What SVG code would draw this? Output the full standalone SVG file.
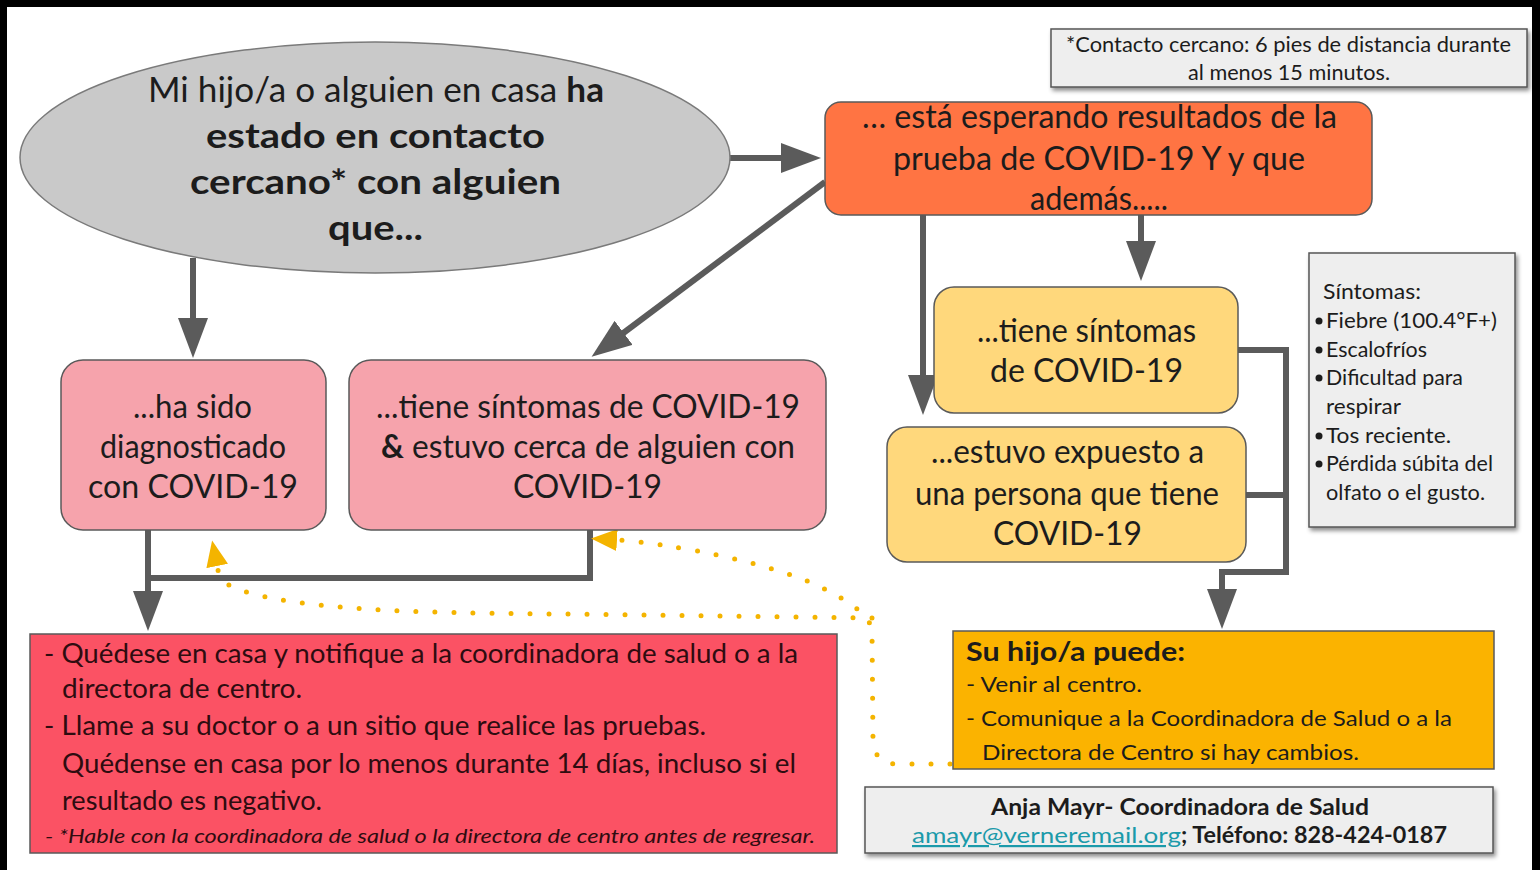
<svg xmlns="http://www.w3.org/2000/svg" width="1540" height="870" viewBox="0 0 1540 870">
<defs>
<style>
text{font-family:Lato,"Open Sans","DejaVu Sans",sans-serif;fill:#1c1c1c}
.b{font-weight:bold}
.con{fill:none;stroke:#5b5b5b;stroke-width:6;stroke-linejoin:miter}
.dot{fill:none;stroke:#f4b400;stroke-width:5;stroke-linecap:round;stroke-dasharray:0 19}
.box{stroke:#5a5a5a;stroke-width:1.5}
.gray{fill:#eeeeee;stroke:#555;stroke-width:1.5}
.t32{font-size:32px}
.t26{font-size:26px}
.t21{font-size:21px}
.red text{fill:#2e0c10}
</style>
<marker id="ah" viewBox="0 0 40 30" refX="2" refY="15" markerWidth="40" markerHeight="30" markerUnits="userSpaceOnUse" orient="auto">
<path d="M0,0 L40,15 L0,30 z" fill="#5b5b5b"/>
</marker>
<marker id="yh" viewBox="0 0 26 22" refX="1" refY="11" markerWidth="26" markerHeight="22" markerUnits="userSpaceOnUse" orient="auto">
<path d="M0,0 L26,11 L0,22 z" fill="#f4b400"/>
</marker>
<filter id="sh" x="-5%" y="-10%" width="115%" height="130%">
<feDropShadow dx="2" dy="3" stdDeviation="2" flood-color="#000" flood-opacity="0.45"/>
</filter>
</defs>
<rect width="1540" height="870" fill="#ffffff"/>

<g id="connectors">
<path class="con" d="M730 158 L783 158" marker-end="url(#ah)"/>
<path class="con" d="M193 258 L193 320" marker-end="url(#ah)"/>
<path class="con" d="M825 182 L622 334" marker-end="url(#ah)"/>
<path class="con" d="M1141 215 L1141 243" marker-end="url(#ah)"/>
<path class="con" d="M923 215 L923 377" marker-end="url(#ah)"/>
<path class="con" d="M590 530 L590 578 L148 578"/>
<path class="con" d="M148 530 L148 593" marker-end="url(#ah)"/>
<path class="con" d="M1238 350 L1286 350 L1286 572 L1222 572 L1222 591" marker-end="url(#ah)"/>
<path class="con" d="M1246 495 L1286 495"/>
<path class="dot" d="M950 764 L898 764 Q874 764 873 740 L872 630 Q868 606 800 578 Q730 553 632 541 L616 540" marker-end="url(#yh)"/>
<path class="dot" d="M872 618 L480 613 C330 611 250 600 224 582 L219 575 L217 565" marker-end="url(#yh)"/>
</g>

<g id="start">
<ellipse cx="375" cy="157.5" rx="355" ry="115.5" fill="#c9c9c9" stroke="#7a7a7a" stroke-width="1.5"/>
<text x="148" y="102" font-size="34" textLength="456" lengthAdjust="spacingAndGlyphs">Mi hijo/a o alguien en casa <tspan class="b">ha</tspan></text>
<text x="206" y="148" font-size="34" class="b" textLength="339" lengthAdjust="spacingAndGlyphs">estado en contacto</text>
<text x="190" y="194" font-size="34" class="b" textLength="371" lengthAdjust="spacingAndGlyphs">cercano* con alguien</text>
<text x="328" y="240" font-size="34" class="b" textLength="95" lengthAdjust="spacingAndGlyphs">que...</text>
</g>

<g id="note">
<rect class="gray" x="1051" y="29" width="476" height="58" filter="url(#sh)"/>
<text x="1066" y="52" class="t21" textLength="445" lengthAdjust="spacingAndGlyphs">*Contacto cercano: 6 pies de distancia durante</text>
<text x="1188" y="80" class="t21" textLength="202" lengthAdjust="spacingAndGlyphs">al menos 15 minutos.</text>
</g>

<g id="waiting">
<rect class="box" x="825" y="102" width="547" height="113" rx="16" fill="#ff7443"/>
<text x="862" y="128" class="t32" textLength="475" lengthAdjust="spacingAndGlyphs">… está esperando resultados de la</text>
<text x="893" y="170" class="t32" textLength="412" lengthAdjust="spacingAndGlyphs">prueba de COVID-19 Y y que</text>
<text x="1030" y="210" class="t32" textLength="138" lengthAdjust="spacingAndGlyphs">además.....</text>
</g>

<g id="diagnosed">
<rect class="box" x="61" y="360" width="265" height="170" rx="22" fill="#f6a3ac"/>
<text x="133" y="418" class="t32" textLength="119" lengthAdjust="spacingAndGlyphs">...ha sido</text>
<text x="100" y="458" class="t32" textLength="186" lengthAdjust="spacingAndGlyphs">diagnosticado</text>
<text x="88" y="498" class="t32" textLength="210" lengthAdjust="spacingAndGlyphs">con COVID-19</text>
</g>

<g id="symptoms-near">
<rect class="box" x="349" y="360" width="477" height="170" rx="22" fill="#f6a3ac"/>
<text x="376" y="418" class="t32" textLength="424" lengthAdjust="spacingAndGlyphs">...tiene síntomas de COVID-19</text>
<text x="381" y="458" class="t32" textLength="414" lengthAdjust="spacingAndGlyphs"><tspan class="b">&amp;</tspan> estuvo cerca de alguien con</text>
<text x="513" y="498" class="t32" textLength="149" lengthAdjust="spacingAndGlyphs">COVID-19</text>
</g>

<g id="has-symptoms">
<rect class="box" x="934" y="287" width="304" height="126" rx="20" fill="#ffd87c"/>
<text x="977" y="342" class="t32" textLength="219" lengthAdjust="spacingAndGlyphs">...tiene síntomas</text>
<text x="990" y="382" class="t32" textLength="193" lengthAdjust="spacingAndGlyphs">de COVID-19</text>
</g>

<g id="exposed">
<rect class="box" x="887" y="427" width="359" height="135" rx="20" fill="#ffd87c"/>
<text x="931" y="463" class="t32" textLength="273" lengthAdjust="spacingAndGlyphs">...estuvo expuesto a</text>
<text x="915" y="505" class="t32" textLength="304" lengthAdjust="spacingAndGlyphs">una persona que tiene</text>
<text x="993" y="545" class="t32" textLength="149" lengthAdjust="spacingAndGlyphs">COVID-19</text>
</g>

<g id="symptom-list">
<rect class="gray" x="1309" y="253" width="206" height="274" filter="url(#sh)"/>
<text x="1323" y="299" class="t21" textLength="98" lengthAdjust="spacingAndGlyphs">Síntomas:</text>
<circle cx="1319" cy="321" r="3.5" fill="#1c1c1c"/>
<text x="1326" y="328" class="t21" textLength="171" lengthAdjust="spacingAndGlyphs">Fiebre (100.4°F+)</text>
<circle cx="1319" cy="350" r="3.5" fill="#1c1c1c"/>
<text x="1326" y="357" class="t21" textLength="101" lengthAdjust="spacingAndGlyphs">Escalofríos</text>
<circle cx="1319" cy="378" r="3.5" fill="#1c1c1c"/>
<text x="1326" y="385" class="t21" textLength="137" lengthAdjust="spacingAndGlyphs">Dificultad para</text>
<text x="1326" y="414" class="t21" textLength="75" lengthAdjust="spacingAndGlyphs">respirar</text>
<circle cx="1319" cy="436" r="3.5" fill="#1c1c1c"/>
<text x="1326" y="443" class="t21" textLength="125" lengthAdjust="spacingAndGlyphs">Tos reciente.</text>
<circle cx="1319" cy="464" r="3.5" fill="#1c1c1c"/>
<text x="1326" y="471" class="t21" textLength="167" lengthAdjust="spacingAndGlyphs">Pérdida súbita del</text>
<text x="1326" y="500" class="t21" textLength="159" lengthAdjust="spacingAndGlyphs">olfato o el gusto.</text>
</g>

<g id="stay-home" class="red">
<rect class="box" x="30" y="634" width="807" height="219" fill="#fb5264"/>
<text x="44" y="663" class="t26" textLength="754" lengthAdjust="spacingAndGlyphs">- Quédese en casa y notifique a la coordinadora de salud o a la</text>
<text x="62" y="698" class="t26" textLength="240" lengthAdjust="spacingAndGlyphs">directora de centro.</text>
<text x="44" y="735" class="t26" textLength="662" lengthAdjust="spacingAndGlyphs">- Llame a su doctor o a un sitio que realice las pruebas.</text>
<text x="62" y="773" class="t26" textLength="734" lengthAdjust="spacingAndGlyphs">Quédense en casa por lo menos durante 14 días, incluso si el</text>
<text x="62" y="810" class="t26" textLength="260" lengthAdjust="spacingAndGlyphs">resultado es negativo.</text>
<text x="45" y="843" font-size="20" font-style="italic" textLength="770" lengthAdjust="spacingAndGlyphs">- *Hable con la coordinadora de salud o la directora de centro antes de regresar.</text>
</g>

<g id="can-come">
<rect class="box" x="953" y="631" width="541" height="138" fill="#fbb300"/>
<text x="966" y="661" font-size="27" class="b" textLength="219" lengthAdjust="spacingAndGlyphs">Su hijo/a puede:</text>
<text x="966" y="692" font-size="22" textLength="176" lengthAdjust="spacingAndGlyphs">- Venir al centro.</text>
<text x="966" y="726" font-size="22" textLength="486" lengthAdjust="spacingAndGlyphs">- Comunique a la Coordinadora de Salud o a la</text>
<text x="982" y="760" font-size="22" textLength="377" lengthAdjust="spacingAndGlyphs">Directora de Centro si hay cambios.</text>
</g>

<g id="contact">
<rect class="gray" x="865" y="787" width="628" height="66" filter="url(#sh)"/>
<text x="991" y="815" font-size="22" class="b" textLength="378" lengthAdjust="spacingAndGlyphs">Anja Mayr- Coordinadora de Salud</text>
<text x="912" y="843" font-size="22" style="fill:#1b9aaa" text-decoration="underline" textLength="269" lengthAdjust="spacingAndGlyphs">amayr@verneremail.org</text>
<text x="1181" y="843" font-size="22" class="b" textLength="266" lengthAdjust="spacingAndGlyphs">; Teléfono: 828-424-0187</text>
</g>

<g id="frame">
<rect x="0" y="0" width="1540" height="7" fill="#000"/>
<rect x="0" y="0" width="7" height="870" fill="#000"/>
<rect x="1532" y="0" width="8" height="870" fill="#000"/>
</g>
</svg>
